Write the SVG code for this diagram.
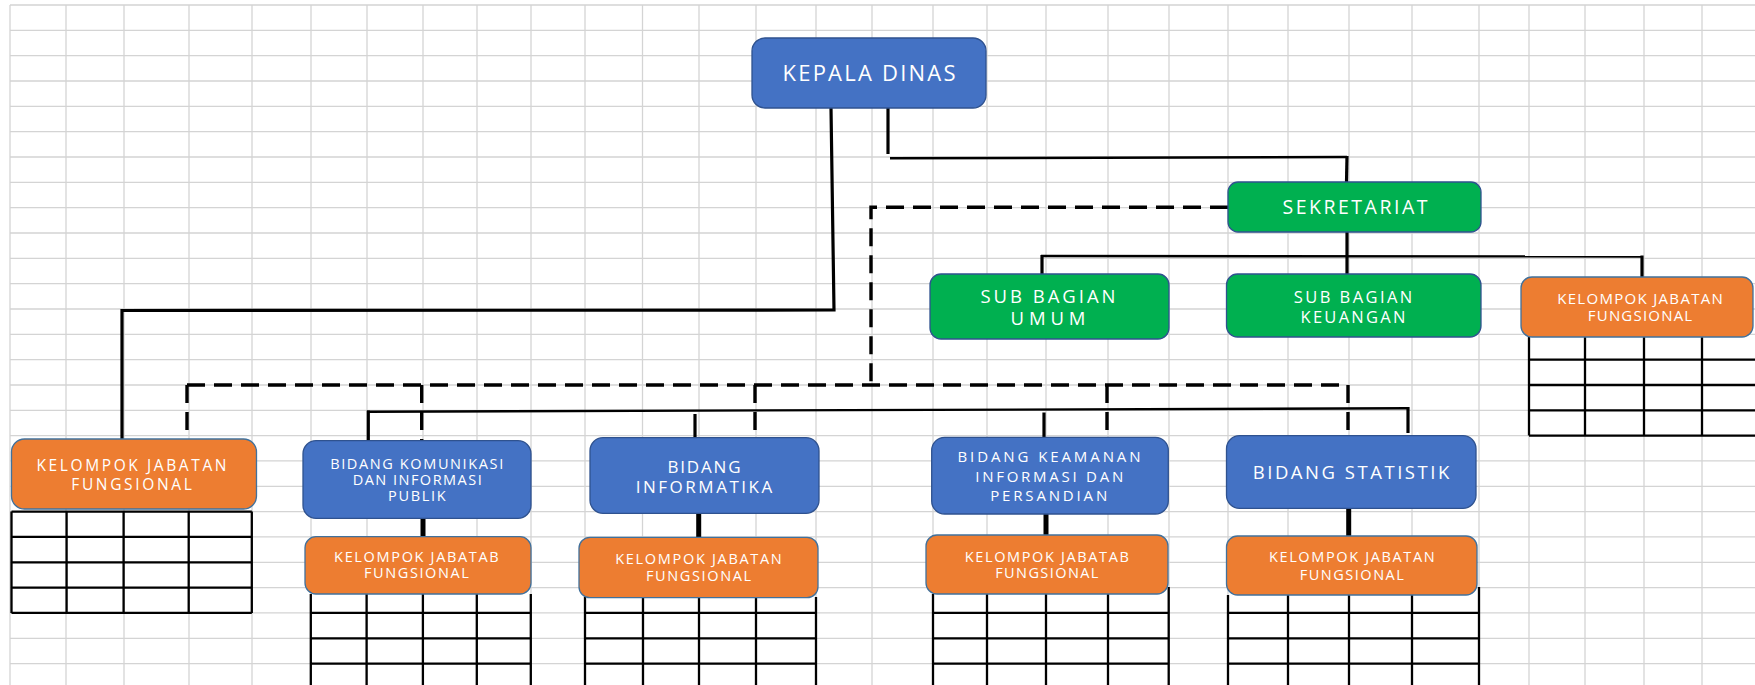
<svg xmlns="http://www.w3.org/2000/svg" width="1755" height="685" viewBox="0 0 1755 685">
<style>
.grid{stroke:#d4d4d4;stroke-width:1.3;fill:none}
.tbl{stroke:#000;stroke-width:2.3;fill:none}
.blue{fill:#4472c4;stroke:#2f528f;stroke-width:1.3}
.green{fill:#00b050;stroke:#2f528f;stroke-width:1.3}
.orange{fill:#ed7d31;stroke:#41719c;stroke-width:1.3}
.t{fill:#fff;font-family:"Open Sans","Liberation Sans",Arial,sans-serif;text-anchor:middle}
.s{stroke:#000;fill:none;stroke-width:3.2}
.sh{stroke:#000;fill:none;stroke-width:2.4}
.sk{stroke:#000;fill:none;stroke-width:5}
.d{stroke:#000;fill:none;stroke-width:3.4;stroke-dasharray:18 9}
</style>
<rect width="1755" height="685" fill="#fff"/>
<g id="grid">
<path class="grid" d="M10 5V685M66 5V685M124 5V685M189 5V685M252 5V685M311 5V685M367 5V685M423 5V685M477 5V685M531 5V685M585 5V685M642.5 5V685M699 5V685M756 5V685M816 5V685M872 5V685M933 5V685M987 5V685M1046 5V685M1108 5V685M1169 5V685M1228 5V685M1288 5V685M1349 5V685M1412 5V685M1479 5V685M1529 5V685M1585 5V685M1644 5V685M1702 5V685"/>
<path class="grid" d="M10 5H1755M10 30.3H1755M10 55.7H1755M10 81H1755M10 106.3H1755M10 131.7H1755M10 157H1755M10 182.3H1755M10 207.6H1755M10 233H1755M10 258.3H1755M10 283.6H1755M10 309H1755M10 334.3H1755M10 359.6H1755M10 385H1755M10 410.3H1755M10 435.6H1755M10 460.9H1755M10 486.3H1755M10 511.6H1755M10 536.9H1755M10 562.3H1755M10 587.6H1755M10 612.9H1755M10 638.3H1755M10 663.6H1755"/>
</g>
<g id="tables">
<path class="tbl" d="M11.5 511.6V612.9M66.6 511.6V612.9M123.6 511.6V612.9M188.7 511.6V612.9M251.8 511.6V612.9M11.5 511.6H251.8M11.5 536.9H251.8M11.5 562.3H251.8M11.5 587.6H251.8M11.5 612.9H251.8"/>
<path class="tbl" d="M310.8 594V685M366.6 594V685M422.9 594V685M476.8 594V685M530.8 594V685M310.8 612.9H530.8M310.8 638.3H530.8M310.8 663.6H530.8"/>
<path class="tbl" d="M585 597V685M643 597V685M699 597V685M756 597V685M816 597V685M585 612.9H816M585 638.3H816M585 663.6H816"/>
<path class="tbl" d="M933 594V685M987 594V685M1046 594V685M1108 594V685M1168.7 587V685M933 612.9H1168.7M933 638.3H1168.7M933 663.6H1168.7"/>
<path class="tbl" d="M1228 595V685M1288 595V685M1349 595V685M1412 595V685M1479 587V685M1228 612.9H1479M1228 638.3H1479M1228 663.6H1479"/>
<path class="tbl" d="M1529 337V435.6M1585 337V435.6M1644 337V435.6M1702 337V435.6M1529 359.6H1755M1529 385H1755M1529 410.3H1755M1529 435.6H1755"/>
</g>
<g id="connectors">
<polyline class="s" points="831,108 834,310 122,310.5 122,439"/>
<line class="s" x1="888" y1="108" x2="888" y2="154"/>
<line class="sh" x1="890" y1="158.3" x2="1347" y2="157"/>
<line class="s" x1="1347" y1="156" x2="1346.5" y2="182"/>
<line class="s" x1="1347" y1="232" x2="1347" y2="274"/>
<line class="sh" x1="1041" y1="256" x2="1643" y2="256.5"/>
<line class="s" x1="1042" y1="255" x2="1042" y2="278"/>
<line class="s" x1="1642" y1="255.5" x2="1642" y2="279"/>
<line class="sh" x1="367" y1="411.7" x2="1409" y2="408.3"/>
<line class="s" x1="368.3" y1="410.5" x2="368.3" y2="440.5"/>
<line class="s" x1="695" y1="414" x2="695" y2="437.5"/>
<line class="s" x1="1044" y1="412.5" x2="1044" y2="437"/>
<line class="s" x1="1408" y1="407" x2="1408" y2="433"/>
<line class="sk" x1="423" y1="518" x2="423" y2="537"/>
<line class="sk" x1="698.7" y1="513" x2="698.7" y2="537"/>
<line class="sk" x1="1046" y1="514" x2="1046" y2="535"/>
<line class="sk" x1="1348.7" y1="508" x2="1348.7" y2="536"/>
<polyline class="d" points="1228,207.3 871,207.3 871,385"/>
<line class="d" x1="187" y1="385" x2="1348" y2="385"/>
<line class="d" x1="187" y1="385" x2="187" y2="439"/>
<line class="d" x1="421.7" y1="385" x2="421.7" y2="440.5"/>
<line class="d" x1="755" y1="385" x2="755" y2="437.5"/>
<line class="d" x1="1107" y1="385" x2="1107" y2="437.5"/>
<line class="d" x1="1348" y1="385" x2="1348" y2="435.7"/>
</g>
<g id="kepala-dinas">
<rect class="blue" x="752" y="38" width="234" height="70" rx="13"/>
<text class="t" x="869" y="80.5" font-size="22" textLength="173" lengthAdjust="spacing">KEPALA  DINAS</text>
</g>
<g id="sekretariat">
<rect class="green" x="1228" y="182" width="253" height="50" rx="10"/>
<text class="t" x="1355" y="213.5" font-size="19.5" textLength="145" lengthAdjust="spacing">SEKRETARIAT</text>
</g>
<g id="sub-bagian-umum">
<rect class="green" x="930" y="274" width="239" height="65" rx="11"/>
<text class="t" x="1048" y="302.7" font-size="18.5" textLength="135" lengthAdjust="spacing">SUB BAGIAN</text>
<text class="t" x="1048" y="324.5" font-size="18.5" textLength="75" lengthAdjust="spacing">UMUM</text>
</g>
<g id="sub-bagian-keuangan">
<rect class="green" x="1226.5" y="274" width="254.5" height="63" rx="11"/>
<text class="t" x="1353" y="302.5" font-size="16.5" textLength="118.6" lengthAdjust="spacing">SUB  BAGIAN</text>
<text class="t" x="1353" y="322.5" font-size="16.5" textLength="105" lengthAdjust="spacing">KEUANGAN</text>
</g>
<g id="kjf-sekretariat">
<rect class="orange" x="1521" y="277" width="232" height="60" rx="11"/>
<text class="t" x="1640" y="303.5" font-size="15" textLength="165.7" lengthAdjust="spacing">KELOMPOK JABATAN</text>
<text class="t" x="1640" y="320.5" font-size="15" textLength="104.4" lengthAdjust="spacing">FUNGSIONAL</text>
</g>
<g id="kjf-kepala">
<rect class="orange" x="11.5" y="439" width="245" height="70" rx="13"/>
<text class="t" x="131.5" y="470.5" font-size="15.5" textLength="190" lengthAdjust="spacing">KELOMPOK  JABATAN</text>
<text class="t" x="131.5" y="489.5" font-size="15.5" textLength="120.5" lengthAdjust="spacing">FUNGSIONAL</text>
</g>
<g id="bidang-komunikasi">
<rect class="blue" x="303" y="440.7" width="228" height="77.6" rx="13"/>
<text class="t" x="416.7" y="468.8" font-size="14.5" textLength="173" lengthAdjust="spacing">BIDANG KOMUNIKASI</text>
<text class="t" x="417.2" y="484.8" font-size="14.5" textLength="129" lengthAdjust="spacing">DAN INFORMASI</text>
<text class="t" x="416.9" y="501.2" font-size="14.5" textLength="57.7" lengthAdjust="spacing">PUBLIK</text>
</g>
<g id="kjf-komunikasi">
<rect class="orange" x="305" y="536.7" width="226" height="57.3" rx="11"/>
<text class="t" x="416.4" y="562.2" font-size="14.5" textLength="164.6" lengthAdjust="spacing">KELOMPOK JABATAB</text>
<text class="t" x="416.4" y="578.2" font-size="14.5" textLength="104.9" lengthAdjust="spacing">FUNGSIONAL</text>
</g>
<g id="bidang-informatika">
<rect class="blue" x="590" y="437.7" width="229" height="75.6" rx="13"/>
<text class="t" x="704" y="472.8" font-size="17" textLength="73" lengthAdjust="spacing">BIDANG</text>
<text class="t" x="704" y="492.8" font-size="17" textLength="136.6" lengthAdjust="spacing">INFORMATIKA</text>
</g>
<g id="kjf-informatika">
<rect class="orange" x="579" y="537.3" width="239" height="60.4" rx="11"/>
<text class="t" x="698.5" y="564.2" font-size="14.5" textLength="166.5" lengthAdjust="spacing">KELOMPOK JABATAN</text>
<text class="t" x="698.5" y="581.2" font-size="14.5" textLength="105.2" lengthAdjust="spacing">FUNGSIONAL</text>
</g>
<g id="bidang-keamanan">
<rect class="blue" x="931.7" y="437.3" width="236.6" height="76.7" rx="13"/>
<text class="t" x="1049" y="462.2" font-size="15" textLength="183" lengthAdjust="spacing">BIDANG KEAMANAN</text>
<text class="t" x="1049.2" y="481.5" font-size="15" textLength="148" lengthAdjust="spacing">INFORMASI DAN</text>
<text class="t" x="1048.7" y="500.5" font-size="15" textLength="117" lengthAdjust="spacing">PERSANDIAN</text>
</g>
<g id="kjf-keamanan">
<rect class="orange" x="926" y="535" width="242" height="59" rx="11"/>
<text class="t" x="1046.8" y="562.2" font-size="14.5" textLength="164.2" lengthAdjust="spacing">KELOMPOK JABATAB</text>
<text class="t" x="1046.8" y="578.2" font-size="14.5" textLength="103.3" lengthAdjust="spacing">FUNGSIONAL</text>
</g>
<g id="bidang-statistik">
<rect class="blue" x="1226.5" y="435.7" width="249.5" height="72.6" rx="13"/>
<text class="t" x="1351" y="478.8" font-size="18.5" textLength="196.5" lengthAdjust="spacing">BIDANG STATISTIK</text>
</g>
<g id="kjf-statistik">
<rect class="orange" x="1226.5" y="536" width="250.5" height="59" rx="11"/>
<text class="t" x="1351.8" y="562.2" font-size="14.5" textLength="165.7" lengthAdjust="spacing">KELOMPOK JABATAN</text>
<text class="t" x="1351.8" y="579.5" font-size="14.5" textLength="104" lengthAdjust="spacing">FUNGSIONAL</text>
</g>
</svg>
